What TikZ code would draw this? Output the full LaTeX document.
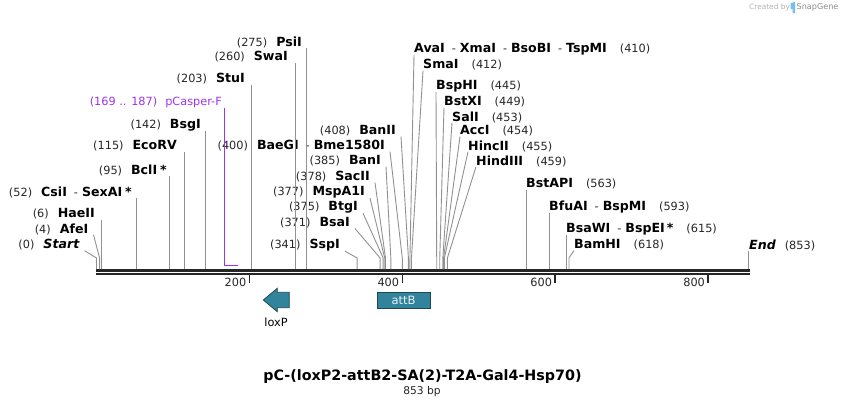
\documentclass[tikz,border=0pt]{standalone}
\usepackage{fontspec}
\setmainfont{DejaVu Sans}

\definecolor{featfill}{RGB}{49,132,155}
\definecolor{featline}{RGB}{30,72,88}
\definecolor{primer}{RGB}{160,50,235}
\definecolor{leader}{RGB}{145,145,145}
\definecolor{spine}{RGB}{38,38,38}
\definecolor{logo}{RGB}{120,190,235}
\newcommand\enz[1]{{\fontsize{12.6}{14}\selectfont\bfseries\color{black}#1}}
\newcommand\enzi[1]{{\fontsize{12.6}{14}\selectfont\bfseries\itshape\color{black}#1}}
\newcommand\orsep{\hspace{7pt}-\hspace{4pt}}

\begin{document}
\begin{tikzpicture}[x=1pt,y=-1pt,
    cut/.style={draw=leader,line width=0.9pt},
    lab/.style={inner sep=0pt,font=\fontsize{11.3}{13}\selectfont,text=black!85},
    feat/.style={draw=featline,fill=featfill,line width=0.8pt}]
    \useasboundingbox (0,0) rectangle (846,408);

    \draw[spine,line width=2.7pt] (96,270.6) -- (750,270.6);
    \draw[spine,line width=2.3pt] (96,274.2) -- (750,274.2);
    \foreach \p/\t in {249.4/200,402.3/400,555.2/600,708.1/800}{
      \draw[spine,line width=1.5pt] (\p,275) -- (\p,282.5);
      \node[lab,anchor=east] (t\t) at (\p-3,282.5) {\t};
    }

    \foreach \n/\p in {Start/0,AfeI/4,HaeII/6,CsiI/52,BclI/95,EcoRV/115,BsgI/142,
        StuI/203,SwaI/260,PsiI/275,SspI/341,BsaI/371,BtgI/375,MspA1I/377,SacII/378,
        BanI/385,BaeGI/400,BanII/408,AvaI/410,SmaI/412,BspHI/445,BstXI/449,SalI/453,
        AccI/454,HincII/455,HindIII/459,BstAPI/563,BfuAI/593,BsaWI/615,BamHI/618,End/853}
      \coordinate (c\n) at (96.5+0.7645*\p,269);

    % left hand labels
    \node[lab,anchor=east] (Start) at (79.5,245) {(0)\hspace{9pt}\enzi{Start}};
    \node[lab,anchor=east] (AfeI) at (88.5,229) {(4)\hspace{9pt}\enz{AfeI}};
    \node[lab,anchor=east] (HaeII) at (95,214) {(6)\hspace{9pt}\enz{HaeII}};
    \node[lab,anchor=east] (CsiI) at (132,192) {(52)\hspace{9pt}\enz{CsiI}\orsep\enz{SexAI\hspace{3pt}*}};
    \node[lab,anchor=east] (BclI) at (167,170) {(95)\hspace{9pt}\enz{BclI\hspace{3pt}*}};
    \node[lab,anchor=east] (EcoRV) at (177,146) {(115)\hspace{9pt}\enz{EcoRV}};
    \node[lab,anchor=east] (BsgI) at (201,125) {(142)\hspace{9pt}\enz{BsgI}};
    \node[lab,anchor=east,text=primer] (pCasper) at (222,102) {(169 .. 187)\hspace{8pt}pCasper-F};
    \node[lab,anchor=east] (StuI) at (245,79) {(203)\hspace{9pt}\enz{StuI}};
    \node[lab,anchor=east] (SwaI) at (288,57) {(260)\hspace{9pt}\enz{SwaI}};
    \node[lab,anchor=east] (PsiI) at (302,42) {(275)\hspace{9pt}\enz{PsiI}};
    \node[lab,anchor=east] (BaeGI) at (385,146) {(400)\hspace{9pt}\enz{BaeGI}\orsep\enz{Bme1580I}};
    \node[lab,anchor=east] (BanII) at (396,131) {(408)\hspace{9pt}\enz{BanII}};
    \node[lab,anchor=east] (BanI) at (381,161) {(385)\hspace{9pt}\enz{BanI}};
    \node[lab,anchor=east] (SacII) at (370,177) {(378)\hspace{9pt}\enz{SacII}};
    \node[lab,anchor=east] (MspA1I) at (365,192) {(377)\hspace{9pt}\enz{MspA1I}};
    \node[lab,anchor=east] (BtgI) at (358,207) {(375)\hspace{9pt}\enz{BtgI}};
    \node[lab,anchor=east] (BsaI) at (350,223) {(371)\hspace{9pt}\enz{BsaI}};
    \node[lab,anchor=east] (SspI) at (340,245) {(341)\hspace{9pt}\enz{SspI}};

    % right hand labels
    \node[lab,anchor=west] (AvaI) at (414,49) {\enz{AvaI}\orsep\enz{XmaI}\orsep\enz{BsoBI}\orsep\enz{TspMI}\hspace{13pt}(410)};
    \node[lab,anchor=west] (SmaI) at (423,65) {\enz{SmaI}\hspace{13pt}(412)};
    \node[lab,anchor=west] (BspHI) at (436,86) {\enz{BspHI}\hspace{13pt}(445)};
    \node[lab,anchor=west] (BstXI) at (444,102) {\enz{BstXI}\hspace{13pt}(449)};
    \node[lab,anchor=west] (SalI) at (452,117) {\enz{SalI}\hspace{13pt}(453)};
    \node[lab,anchor=west] (AccI) at (460,131) {\enz{AccI}\hspace{13pt}(454)};
    \node[lab,anchor=west] (HincII) at (468,146) {\enz{HincII}\hspace{13pt}(455)};
    \node[lab,anchor=west] (HindIII) at (476,161) {\enz{HindIII}\hspace{13pt}(459)};
    \node[lab,anchor=west] (BstAPI) at (526,184) {\enz{BstAPI}\hspace{13pt}(563)};
    \node[lab,anchor=west] (BfuAI) at (549,207) {\enz{BfuAI}\orsep\enz{BspMI}\hspace{13pt}(593)};
    \node[lab,anchor=west] (BsaWI) at (566,229) {\enz{BsaWI}\orsep\enz{BspEI\hspace{2pt}*}\hspace{13pt}(615)};
    \node[lab,anchor=west] (BamHI) at (574,245) {\enz{BamHI}\hspace{13pt}(618)};
    \node[lab,anchor=west] (End) at (749,245) {\enzi{End}\hspace{9pt}(853)};

    \foreach \n in {HaeII,CsiI,BclI,EcoRV,BsgI,StuI,SwaI,PsiI,BstAPI,BfuAI,BsaWI,End}
      \draw[cut] (c\n) -- (c\n |- \n.south);
    \foreach \n in {Start,AfeI,SspI,BsaI,BtgI,MspA1I,SacII,BanI,BaeGI,BanII}
      \draw[cut] (\n.south east) ++(5,0) -- ([yshift=11pt]c\n) -- (c\n);
    \foreach \n in {AvaI,SmaI,BspHI,BstXI,SalI,AccI,HincII,HindIII,BamHI}
      \draw[cut] (\n.south west) -- ([yshift=11pt]c\n) -- (c\n);

    \coordinate (p187) at (237.5,265.5);
    \draw[primer,line width=1.6pt] (pCasper.south east) ++(2.5,0) |- (p187);

    % features
    \draw[feat] (289.3,292.3) -- (277.3,292.3) -- (277.3,288.3) -- (263.3,300)
      -- (277.3,311.7) -- (277.3,307.7) -- (289.3,307.7) -- cycle;
    \node[lab,text=black] (loxP) at (276,322) {loxP};
    \node[feat,minimum width=52.7pt,minimum height=16pt,inner sep=0pt,
      font=\fontsize{11.5}{13}\selectfont,text=white!90!featfill] (attB) at (403.6,300.3) {attB};

    \node[font=\bfseries\fontsize{14.3}{16}\selectfont] (title) at (422.5,377) {pC-(loxP2-attB2-SA(2)-T2A-Gal4-Hsp70)};
    \node[lab,font=\fontsize{10.7}{12}\selectfont] (size) at (422,392) {853 bp};

    \node[lab,anchor=west,text=black!30,font=\fontsize{7.4}{9}\selectfont] (credit) at (749,7.5) {Created by};
    \fill[logo] (790.5,3) -- (795,2) -- (795,13) -- (792.5,13) -- (792.5,9) -- (790.5,9) -- cycle;
    \node[lab,anchor=west,text=black!45,font=\fontsize{8.1}{9}\selectfont] (snap) at (796.5,7.5) {SnapGene};
  \end{tikzpicture}
\end{document}
